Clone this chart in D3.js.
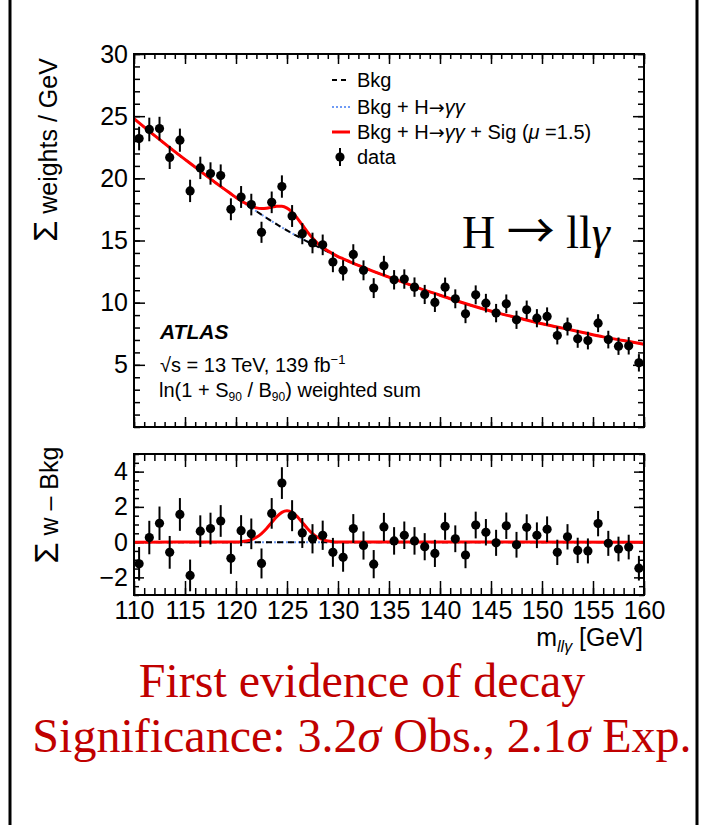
<!DOCTYPE html>
<html><head><meta charset="utf-8">
<script src="https://cdn.jsdelivr.net/npm/d3@7"></script>
<style>
html,body{margin:0;padding:0;background:#fff;}
svg{display:block;}
text{font-family:"Liberation Sans",Arial,Helvetica,sans-serif;}
.serif{font-family:"Liberation Serif","Times New Roman",serif;}
.arrow{font-family:"Noto Sans CJK SC","DejaVu Sans",sans-serif;}
.arrowS{font-family:"DejaVu Sans",sans-serif;}
</style></head>
<body>
<script>
// ---- data ----
const binCenters = [110.5,111.5,112.5,113.5,114.5,115.5,116.5,117.5,118.5,119.5,
  120.5,121.5,122.5,123.5,124.5,125.5,126.5,127.5,128.5,129.5,
  130.5,131.5,132.5,133.5,134.5,135.5,136.5,137.5,138.5,139.5,
  140.5,141.5,142.5,143.5,144.5,145.5,146.5,147.5,148.5,149.5,
  150.5,151.5,152.5,153.5,154.5,155.5,156.5,157.5,158.5,159.5];
const dataWeights = [23.2,23.93,24.0,21.68,23.07,18.99,20.84,20.39,20.22,17.51,
  18.5,17.89,15.66,18.07,19.34,16.97,15.55,14.8,14.65,13.27,
  12.6,13.88,12.6,11.17,12.97,11.84,11.9,11.25,10.66,10.02,
  11.25,10.31,9.1,10.63,9.96,9.16,9.91,8.62,9.43,8.75,
  8.89,7.36,8.08,7.09,6.95,8.35,7.03,6.5,6.53,5.16];
const dataErrors = [0.95,0.95,0.95,0.93,0.93,0.9,0.9,0.9,0.9,0.88,
  0.88,0.87,0.85,0.87,0.9,0.88,0.85,0.83,0.83,0.82,
  0.82,0.82,0.8,0.8,0.8,0.78,0.78,0.78,0.77,0.77,
  0.77,0.76,0.75,0.76,0.75,0.74,0.75,0.73,0.74,0.73,
  0.73,0.72,0.72,0.72,0.71,0.72,0.71,0.7,0.7,0.7];
const residuals = [-1.23,0.26,1.07,-0.58,1.57,-1.89,0.62,0.77,1.2,-0.92,
  0.65,0.47,-1.21,1.63,3.35,1.5,0.52,0.19,0.39,-0.58,
  -0.86,0.77,-0.19,-1.25,0.86,0.07,0.39,0.07,-0.26,-0.64,
  0.9,0.19,-0.73,0.97,0.56,-0.04,0.93,-0.15,0.84,0.39,
  0.73,-0.58,0.3,-0.47,-0.5,1.05,-0.07,-0.39,-0.28,-1.48];
const bkgMass = [110,112,114,116,118,120,122,124,126,128,130,132,134,136,138,140,142,144,146,148,150,152,154,156,158,160];
const bkgValues = [24.8,23.45,22.15,20.9,19.65,18.45,17.35,16.3,15.35,14.5,13.7,13.0,12.35,11.75,11.15,10.6,10.05,9.55,9.1,8.7,8.3,7.95,7.6,7.25,6.95,6.65];
const sigMass = [119,119.5,120,120.5,121,121.5,122,122.5,123,123.5,124,124.5,125,125.5,126,126.5,127,127.5,128,128.5,129,129.5,130,130.5,131];
const sigValues = [0.001,0.003,0.010,0.026,0.064,0.139,0.274,0.485,0.774,1.115,1.446,1.689,1.78,1.689,1.446,1.115,0.774,0.485,0.274,0.139,0.064,0.026,0.010,0.003,0.001];
const xTicks = [110,115,120,125,130,135,140,145,150,155,160];
const yTopTicks = [5,10,15,20,25,30];
const yBotTicks = [-2,0,2,4];

// ---- layout ----
const W = 706, H = 825;
const svg = d3.select("body").append("svg").attr("width", W).attr("height", H);

const x = d3.scaleLinear().domain([110,160]).range([134,644]);
const yTop = d3.scaleLinear().domain([0,30]).range([427,54]);
const yBot = d3.scaleLinear().domain([-3,5]).range([595,454]);

// outer border lines
svg.append("line").attr("x1",10).attr("x2",10).attr("y1",0).attr("y2",H).attr("stroke","#000").attr("stroke-width",3);
svg.append("line").attr("x1",697).attr("x2",697).attr("y1",0).attr("y2",H).attr("stroke","#000").attr("stroke-width",3);

const bkgInterp = m => {
  const i = Math.min(bkgMass.length-2, Math.max(0, d3.bisectRight(bkgMass, m)-1));
  const t = (m - bkgMass[i])/(bkgMass[i+1]-bkgMass[i]);
  return bkgValues[i] + t*(bkgValues[i+1]-bkgValues[i]);
};
const sigInterp = m => {
  if (m < sigMass[0] || m > sigMass[sigMass.length-1]) return 0;
  const i = Math.min(sigMass.length-2, Math.max(0, d3.bisectRight(sigMass, m)-1));
  const t = (m - sigMass[i])/(sigMass[i+1]-sigMass[i]);
  return sigValues[i] + t*(sigValues[i+1]-sigValues[i]);
};
const allMass = Array.from(new Set(bkgMass.concat(sigMass))).sort((a,b)=>a-b);

function ticksFor(g, axisFn, scale, vals, size){
  g.call(axisFn(scale).tickValues(vals).tickSize(size).tickFormat(""))
   .call(s=>s.select(".domain").remove())
   .call(s=>s.selectAll("line").attr("stroke","#000").attr("stroke-width",1.5));
}
const xMinor = d3.range(110,161,1);
const yTopMinor = d3.range(0,31,1);
const yBotMinor = d3.range(-3,5.01,0.5);

// ---------- TOP PANEL ----------
const topG = svg.append("g");
ticksFor(topG.append("g").attr("transform","translate(0,427)"), d3.axisBottom, x, xMinor, -5);
ticksFor(topG.append("g").attr("transform","translate(0,427)"), d3.axisBottom, x, xTicks, -10);
ticksFor(topG.append("g").attr("transform","translate(0,54)"), d3.axisTop, x, xMinor, -5);
ticksFor(topG.append("g").attr("transform","translate(0,54)"), d3.axisTop, x, xTicks, -10);
ticksFor(topG.append("g").attr("transform","translate(134,0)"), d3.axisLeft, yTop, yTopMinor, -6);
ticksFor(topG.append("g").attr("transform","translate(644,0)"), d3.axisRight, yTop, yTopMinor, -6);
ticksFor(topG.append("g").attr("transform","translate(644,0)"), d3.axisRight, yTop, yTopTicks, -11);
const yAxTop = topG.append("g").attr("transform","translate(134,0)")
  .call(d3.axisLeft(yTop).tickValues(yTopTicks).tickSize(-11).tickPadding(6).tickFormat(d3.format("d")));
yAxTop.select(".domain").remove();
yAxTop.selectAll("line").attr("stroke","#000").attr("stroke-width",1.5);
yAxTop.selectAll("text").attr("font-size",25).attr("font-family","Liberation Sans, Arial, sans-serif").attr("fill","#000");

const lineTop = d3.line().x(d=>x(d[0])).y(d=>yTop(d[1])).curve(d3.curveMonotoneX);
const bkgPts = bkgMass.map((m,i)=>[m,bkgValues[i]]);
topG.append("path").attr("d", lineTop(bkgPts)).attr("fill","none").attr("stroke","#6f9bf5").attr("stroke-width",2).attr("stroke-dasharray","2,2");
topG.append("path").attr("d", lineTop(bkgPts)).attr("fill","none").attr("stroke","#000").attr("stroke-width",2).attr("stroke-dasharray","6,5");
const sumPts = allMass.map(m=>[m, bkgInterp(m)+sigInterp(m)]);
topG.append("path").attr("d", lineTop(sumPts)).attr("fill","none").attr("stroke","#ff0000").attr("stroke-width",3);

const topPts = topG.append("g");
binCenters.forEach((m,i)=>{
  topPts.append("line").attr("x1",x(m)).attr("x2",x(m))
    .attr("y1",yTop(dataWeights[i]-dataErrors[i])).attr("y2",yTop(dataWeights[i]+dataErrors[i]))
    .attr("stroke","#000").attr("stroke-width",2);
  topPts.append("circle").attr("cx",x(m)).attr("cy",yTop(dataWeights[i])).attr("r",4.6).attr("fill","#000");
});
topG.append("rect").attr("x",134).attr("y",54).attr("width",510).attr("height",373)
  .attr("fill","none").attr("stroke","#000").attr("stroke-width",2);

// legend
const leg = svg.append("g").attr("font-size",20);
const legRows = [80,107,132,157];
leg.append("line").attr("x1",332).attr("x2",350).attr("y1",legRows[0]).attr("y2",legRows[0]).attr("stroke","#000").attr("stroke-width",2).attr("stroke-dasharray","5,4");
leg.append("line").attr("x1",332).attr("x2",350).attr("y1",legRows[1]).attr("y2",legRows[1]).attr("stroke","#6f9bf5").attr("stroke-width",2).attr("stroke-dasharray","2,2");
leg.append("line").attr("x1",332).attr("x2",350).attr("y1",legRows[2]).attr("y2",legRows[2]).attr("stroke","#ff0000").attr("stroke-width",3);
leg.append("line").attr("x1",340).attr("x2",340).attr("y1",legRows[3]-9).attr("y2",legRows[3]+9).attr("stroke","#000").attr("stroke-width",2);
leg.append("circle").attr("cx",340).attr("cy",legRows[3]).attr("r",4.6).attr("fill","#000");
leg.append("text").attr("x",357).attr("y",legRows[0]+7).text("Bkg");
function hgg(t){
  t.append("tspan").text("Bkg + H");
  t.append("tspan").attr("class","arrowS").attr("font-size",19).text("\u2192");
  t.append("tspan").attr("font-style","italic").text("\u03b3\u03b3");
}
const l2 = leg.append("text").attr("x",357).attr("y",legRows[1]+7);
hgg(l2);
const l3 = leg.append("text").attr("x",357).attr("y",legRows[2]+7);
hgg(l3);
l3.append("tspan").text(" + Sig (");
l3.append("tspan").attr("font-style","italic").text("\u03bc");
l3.append("tspan").text(" =1.5)");
leg.append("text").attr("x",357).attr("y",legRows[3]+7).text("data");

// ATLAS labels
svg.append("text").attr("x",160).attr("y",339).attr("font-size",21).attr("font-weight","bold").attr("font-style","italic").text("ATLAS");
const t2 = svg.append("text").attr("x",160).attr("y",372).attr("font-size",20);
t2.append("tspan").text("\u221as = 13 TeV, 139 fb");
t2.append("tspan").attr("font-size",13).attr("dy",-8).text("\u22121");
const t3 = svg.append("text").attr("x",159).attr("y",397).attr("font-size",20);
t3.append("tspan").text("ln(1 + S");
t3.append("tspan").attr("font-size",12).attr("dy",4).text("90");
t3.append("tspan").attr("dy",-4).text(" / B");
t3.append("tspan").attr("font-size",12).attr("dy",4).text("90");
t3.append("tspan").attr("dy",-4).text(") weighted sum");

// H -> ll gamma
const hl = svg.append("text").attr("class","serif").attr("x",462).attr("y",248).attr("font-size",46);
hl.append("tspan").text("H ");
hl.append("tspan").attr("class","arrow").attr("font-size",48).text("\u2192");
hl.append("tspan").text(" ll");
hl.append("tspan").attr("font-style","italic").text("\u03b3");

// y title top
const yt = svg.append("text").attr("transform","translate(57,150) rotate(-90)").attr("text-anchor","middle").attr("font-size",25);
yt.append("tspan").attr("font-size",34).text("\u03a3");
yt.append("tspan").text(" weights / GeV");

// ---------- BOTTOM PANEL ----------
const botG = svg.append("g");
ticksFor(botG.append("g").attr("transform","translate(0,595)"), d3.axisBottom, x, xMinor, -7);
ticksFor(botG.append("g").attr("transform","translate(0,454)"), d3.axisTop, x, xMinor, -7);
ticksFor(botG.append("g").attr("transform","translate(0,454)"), d3.axisTop, x, xTicks, -13);
ticksFor(botG.append("g").attr("transform","translate(134,0)"), d3.axisLeft, yBot, yBotMinor, -5);
ticksFor(botG.append("g").attr("transform","translate(644,0)"), d3.axisRight, yBot, yBotMinor, -5);
ticksFor(botG.append("g").attr("transform","translate(644,0)"), d3.axisRight, yBot, yBotTicks, -10);
const xAx = botG.append("g").attr("transform","translate(0,595)")
  .call(d3.axisBottom(x).tickValues(xTicks).tickSize(-14).tickPadding(6).tickFormat(d3.format("d")));
xAx.select(".domain").remove();
xAx.selectAll("line").attr("stroke","#000").attr("stroke-width",1.5);
xAx.selectAll("text").attr("font-size",25).attr("font-family","Liberation Sans, Arial, sans-serif").attr("fill","#000");
const yAxBot = botG.append("g").attr("transform","translate(134,0)")
  .call(d3.axisLeft(yBot).tickValues(yBotTicks).tickSize(-10).tickPadding(6).tickFormat(d3.format("d")));
yAxBot.select(".domain").remove();
yAxBot.selectAll("line").attr("stroke","#000").attr("stroke-width",1.5);
yAxBot.selectAll("text").attr("font-size",25).attr("font-family","Liberation Sans, Arial, sans-serif").attr("fill","#000");

const lineBot = d3.line().x(d=>x(d[0])).y(d=>yBot(d[1])).curve(d3.curveMonotoneX);
const zeroPts = [[110,0],[160,0]];
botG.append("path").attr("d", lineBot(zeroPts)).attr("fill","none").attr("stroke","#6f9bf5").attr("stroke-width",2).attr("stroke-dasharray","2,2");
botG.append("path").attr("d", lineBot(zeroPts)).attr("fill","none").attr("stroke","#000").attr("stroke-width",2).attr("stroke-dasharray","6,5");
const sigPts = [[110,0]].concat(sigMass.map((m,i)=>[m,sigValues[i]])).concat([[160,0]]);
botG.append("path").attr("d", lineBot(sigPts)).attr("fill","none").attr("stroke","#ff0000").attr("stroke-width",3);

const botPts = botG.append("g");
binCenters.forEach((m,i)=>{
  botPts.append("line").attr("x1",x(m)).attr("x2",x(m))
    .attr("y1",yBot(residuals[i]-dataErrors[i])).attr("y2",yBot(residuals[i]+dataErrors[i]))
    .attr("stroke","#000").attr("stroke-width",2);
  botPts.append("circle").attr("cx",x(m)).attr("cy",yBot(residuals[i])).attr("r",4.6).attr("fill","#000");
});
botG.append("rect").attr("x",134).attr("y",454).attr("width",510).attr("height",141)
  .attr("fill","none").attr("stroke","#000").attr("stroke-width",2);

// y title bottom
const yb = svg.append("text").attr("transform","translate(58,505) rotate(-90)").attr("text-anchor","middle").attr("font-size",25);
yb.append("tspan").attr("font-size",34).text("\u03a3");
yb.append("tspan").text(" w \u2013 Bkg");

// x title
const xt = svg.append("text").attr("x",643).attr("y",646).attr("text-anchor","end").attr("font-size",25);
xt.append("tspan").text("m");
xt.append("tspan").attr("font-size",16).attr("font-style","italic").attr("dy",6).text("ll\u03b3");
xt.append("tspan").attr("dy",-6).text(" [GeV]");

// bottom red text
svg.append("text").attr("class","serif").attr("x",362).attr("y",697).attr("text-anchor","middle")
  .attr("font-size",48).attr("fill","#c00000").text("First evidence of decay");
const sg = svg.append("text").attr("class","serif").attr("x",362).attr("y",752).attr("text-anchor","middle")
  .attr("font-size",48).attr("fill","#c00000");
sg.append("tspan").text("Significance: 3.2");
sg.append("tspan").attr("font-style","italic").text("\u03c3");
sg.append("tspan").text(" Obs., 2.1");
sg.append("tspan").attr("font-style","italic").text("\u03c3");
sg.append("tspan").text(" Exp.");
</script>
</body></html>
